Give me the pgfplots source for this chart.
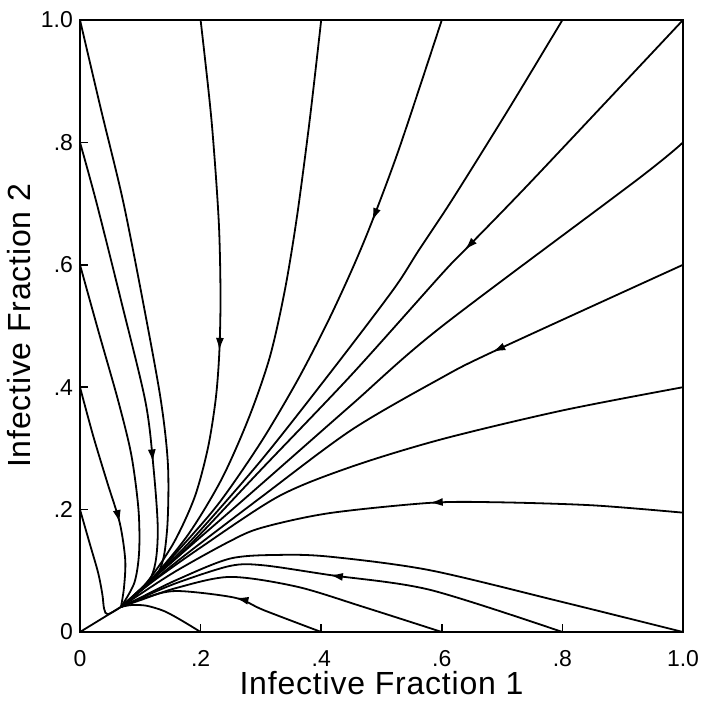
\documentclass[border=0pt]{standalone}
\usepackage{fontspec}
\setmainfont{Liberation Sans}
\newfontfamily\labelfont[LetterSpace=2.5]{Liberation Sans}
\usepackage{pgfplots}
\pgfplotsset{compat=1.18}
\usetikzlibrary{decorations.markings,arrows.meta}

\tikzset{arr/.style={postaction={decorate},
  decoration={markings, mark=at position #1 with {\arrow{Latex[length=6.5pt,width=4pt]}}}}}

\begin{document}
\begin{tikzpicture}
\begin{axis}[
  scale only axis, width=301.5pt, height=306pt,
  xmin=0, xmax=1, ymin=0, ymax=1,
  xtick={0,0.2,0.4,0.6,0.8,1}, xticklabels={0,.2,.4,.6,.8,1.0},
  ytick={0,0.2,0.4,0.6,0.8,1}, yticklabels={0,.2,.4,.6,.8,1.0},
  tick align=inside, xtick pos=bottom, ytick pos=left,
  major tick length=4pt,
  axis line style={line width=1pt},
  every tick/.style={black, line width=0.8pt},
  ticklabel style={font=\fontsize{11.5}{12}\selectfont},
  xticklabel style={inner sep=1pt, yshift=-8pt},
  xlabel={Infective Fraction 1},
  ylabel={Infective Fraction 2},
  every axis x label/.style={at={(axis description cs:0.5,-0.084)}, anchor=center, inner sep=1pt,
    font=\labelfont\fontsize{16}{19}\selectfont},
  every axis y label/.style={at={(axis description cs:-0.101,0.5)}, anchor=center, rotate=90,
    font=\labelfont\fontsize{16}{19}\selectfont},
  every axis plot/.append style={black, line width=0.9pt, smooth, no markers},
]
% all trajectories end in the node at about (0.068, 0.041)
\addplot[] coordinates {(0,0) (0.068,0.041)};
% starting on the left edge
\addplot[] coordinates {(0,0.2) (0.016,0.145) (0.030,0.097) (0.037,0.062) (0.040,0.038) (0.046,0.029) (0.068,0.041)};
\addplot[arr=0.626] coordinates {(0,0.4) (0.022,0.32) (0.045,0.245) (0.066,0.178) (0.075,0.118) (0.073,0.073) (0.068,0.041)};
\addplot[] coordinates {(0,0.6) (0.031,0.49) (0.063,0.379) (0.085,0.29) (0.097,0.2) (0.098,0.13) (0.09,0.08) (0.068,0.041)};
\addplot[arr=0.675] coordinates {(0,0.8) (0.027,0.703) (0.068,0.542) (0.108,0.379) (0.121,0.278) (0.129,0.162) (0.118,0.090) (0.068,0.041)};
\addplot[] coordinates {(0,1) (0.035,0.853) (0.071,0.706) (0.104,0.542) (0.134,0.379) (0.146,0.270) (0.144,0.162) (0.129,0.096) (0.068,0.041)};
% starting on the top edge
\addplot[arr=0.54] coordinates {(0.2,1) (0.218,0.837) (0.23,0.673) (0.233,0.55) (0.231,0.456) (0.225,0.38) (0.212,0.3) (0.19,0.22) (0.155,0.145) (0.11,0.08) (0.068,0.041)};
\addplot[] coordinates {(0.4,1) (0.381,0.837) (0.36,0.68) (0.34,0.56) (0.315,0.45) (0.28,0.35) (0.235,0.25) (0.18,0.16) (0.12,0.088) (0.068,0.041)};
\addplot[arr=0.314] coordinates {(0.6,1) (0.53,0.792) (0.484,0.670) (0.451,0.592) (0.41,0.505) (0.36,0.41) (0.3,0.31) (0.23,0.21) (0.16,0.13) (0.105,0.072) (0.068,0.041)};
\addplot[] coordinates {(0.8,1) (0.71,0.853) (0.617,0.706) (0.562,0.624) (0.52,0.56) (0.42,0.43) (0.3,0.28) (0.18,0.145) (0.11,0.079) (0.068,0.041)};
\addplot[arr=0.39] coordinates {(1,1) (0.751,0.739) (0.638,0.624) (0.6,0.585) (0.45,0.42) (0.3,0.265) (0.18,0.14) (0.11,0.078) (0.068,0.041)};
% starting on the right edge
\addplot[] coordinates {(1,0.8) (0.924,0.739) (0.597,0.497) (0.45,0.371) (0.3,0.241) (0.18,0.138) (0.11,0.078) (0.068,0.041)};
\addplot[arr=0.317] coordinates {(1,0.6) (0.685,0.458) (0.597,0.414) (0.45,0.33) (0.3,0.22) (0.18,0.13) (0.11,0.075) (0.068,0.041)};
\addplot[] coordinates {(1,0.4) (0.8,0.362) (0.6,0.315) (0.45,0.27) (0.33,0.222) (0.2,0.138) (0.12,0.082) (0.068,0.041)};
\addplot[arr=0.433] coordinates {(1,0.195) (0.85,0.207) (0.69,0.212) (0.58,0.211) (0.412,0.194) (0.30,0.17) (0.246,0.147) (0.16,0.1) (0.1,0.062) (0.068,0.041)};
\addplot[] coordinates {(1,0) (0.80,0.049) (0.58,0.101) (0.415,0.123) (0.332,0.126) (0.249,0.12) (0.16,0.085) (0.1,0.056) (0.068,0.041)};
% starting on the bottom edge
\addplot[arr=0.525] coordinates {(0.8,0) (0.58,0.069) (0.415,0.093) (0.304,0.109) (0.249,0.108) (0.16,0.08) (0.1,0.055) (0.068,0.041)};
\addplot[] coordinates {(0.6,0) (0.47,0.041) (0.36,0.074) (0.249,0.09) (0.16,0.072) (0.1,0.052) (0.068,0.041)};
\addplot[arr=0.44] coordinates {(0.4,0) (0.304,0.036) (0.257,0.056) (0.16,0.067) (0.108,0.056) (0.068,0.041)};
\addplot[] coordinates {(0.2,0) (0.17,0.018) (0.14,0.034) (0.11,0.043) (0.085,0.044) (0.068,0.041)};
\coordinate (o) at (rel axis cs:0,0);
\coordinate (t) at (rel axis cs:1,1);
\end{axis}
\path ([shift={(-40pt,-34.5pt)}]o) rectangle ([shift={(4pt,10pt)}]t);
\end{tikzpicture}
\end{document}
